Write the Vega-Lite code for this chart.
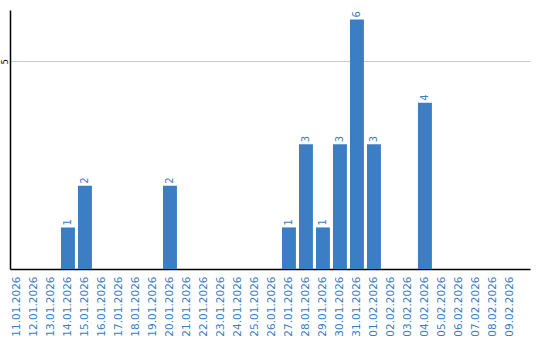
{
  "$schema": "https://vega.github.io/schema/vega-lite/v6.json",
  "autosize": {"type": "none"},
  "width": 520,
  "height": 259,
  "padding": {"left": 10, "top": 10, "right": 10, "bottom": 71},
  "config": {"view": {"stroke": null}, "font": "DejaVu Sans"},
  "data": {"values": [
    {"d": "11.01.2026", "v": 0}, {"d": "12.01.2026", "v": 0}, {"d": "13.01.2026", "v": 0},
    {"d": "14.01.2026", "v": 1}, {"d": "15.01.2026", "v": 2}, {"d": "16.01.2026", "v": 0},
    {"d": "17.01.2026", "v": 0}, {"d": "18.01.2026", "v": 0}, {"d": "19.01.2026", "v": 0},
    {"d": "20.01.2026", "v": 2}, {"d": "21.01.2026", "v": 0}, {"d": "22.01.2026", "v": 0},
    {"d": "23.01.2026", "v": 0}, {"d": "24.01.2026", "v": 0}, {"d": "25.01.2026", "v": 0},
    {"d": "26.01.2026", "v": 0}, {"d": "27.01.2026", "v": 1}, {"d": "28.01.2026", "v": 3},
    {"d": "29.01.2026", "v": 1}, {"d": "30.01.2026", "v": 3}, {"d": "31.01.2026", "v": 6},
    {"d": "01.02.2026", "v": 3}, {"d": "02.02.2026", "v": 0}, {"d": "03.02.2026", "v": 0},
    {"d": "04.02.2026", "v": 4}, {"d": "05.02.2026", "v": 0}, {"d": "06.02.2026", "v": 0},
    {"d": "07.02.2026", "v": 0}, {"d": "08.02.2026", "v": 0}, {"d": "09.02.2026", "v": 0}
  ]},
  "encoding": {
    "x": {
      "field": "d", "type": "ordinal", "sort": null, "title": null,
      "scale": {"paddingInner": 0.18, "paddingOuter": 0.385, "align": 0},
      "axis": {"labelAngle": -90, "labelColor": "#3a7dc2", "labelFontSize": 10.5, "ticks": false,
               "labelPadding": 7, "domainColor": "#000000", "domainWidth": 1.5, "labelFont": "DejaVu Sans"}
    },
    "y": {
      "field": "v", "type": "quantitative", "title": null,
      "scale": {"domain": [0, 6.23], "nice": false},
      "axis": {"values": [5], "ticks": false, "labelAngle": -90, "labelFontSize": 8, "labelColor": "#000000",
               "labelPadding": 5, "labelAlign": "center", "labelBaseline": "middle", "domainColor": "#000000", "domainWidth": 1.5,
               "gridColor": "#c8c8c8", "gridWidth": 1}
    }
  },
  "layer": [
    {"mark": {"type": "bar", "color": "#3b7ec3"}},
    {"transform": [{"filter": "datum.v > 0"}],
     "mark": {"type": "text", "angle": -90, "align": "left", "baseline": "middle", "dx": 2, "fontSize": 10, "color": "#3a7dc2"},
     "encoding": {"text": {"field": "v", "type": "quantitative"}}}
  ]
}
